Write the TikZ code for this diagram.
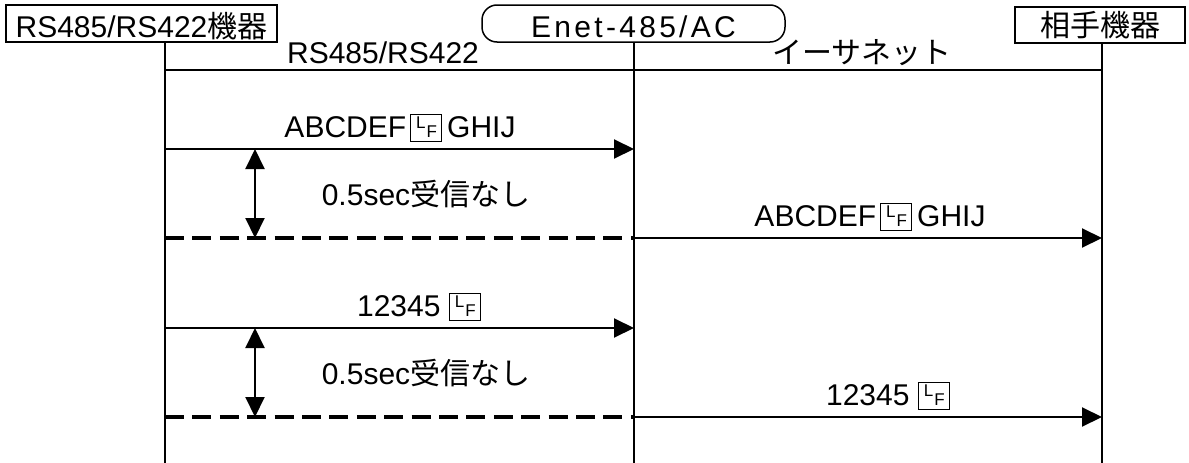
\documentclass[tikz,border=0pt]{standalone}
\usepackage{fontspec}
\setmainfont{Liberation Sans}
\newfontfamily\jp{Noto Sans CJK JP}
\usetikzlibrary{arrows.meta}
\newcommand\lfmark{\raisebox{-4pt}{\setlength\fboxsep{0pt}\setlength\fboxrule{1pt}\fbox{\rule{0pt}{26pt}\makebox[30pt][l]{\hspace{5pt}\raisebox{13pt}{\fontsize{17}{17}\selectfont L}\hspace{1pt}\raisebox{4pt}{\fontsize{17}{17}\selectfont F}}}}}
\begin{document}
\begin{tikzpicture}[x=1pt,y=-1pt,
  every node/.style={inner sep=0pt, font=\fontsize{30}{36}\selectfont},
  actor/.style={draw, line width=1.5pt, minimum height=37pt, text height=27pt, text depth=0pt},
  life/.style={line width=2pt},
  msg/.style={line width=2pt, -{Triangle[length=20pt,width=19pt]}},
  span/.style={line width=2pt, {Triangle[length=20pt,width=19pt]}-{Triangle[length=20pt,width=19pt]}},
  gap/.style={line width=3.5pt, dash pattern=on 19pt off 8.4pt},
  lbl/.style={anchor=base}]
\useasboundingbox (0,0) rectangle (1189,463);
% actors
\node[actor, minimum width=271pt] (devA) at (141.5,23.5) {RS485/RS422{\jp 機器}};
\node[actor, minimum width=303pt, rounded corners=15pt] (enet) at (633.5,23.5) {\addfontfeature{LetterSpace=11}Enet-485/AC};
\node[actor, minimum width=170pt, minimum height=36pt, text height=22pt] (devB) at (1100,25) {\jp 相手機器};
% lifeline x positions
\coordinate (xa) at (165,0);
\coordinate (xm) at (634,0);
\coordinate (xb) at (1102,0);
\coordinate (endA) at (165,463);
\coordinate (endM) at (634,463);
\coordinate (endB) at (1102,463);
\draw[life] (devA.south -| xa) -- (endA);
\draw[life] (enet.south -| xm) -- (endM);
\draw[life] (devB.south -| xb) -- (endB);
% top line
\coordinate (tA) at (165,70);
\coordinate (tB) at (1102,70);
\draw[life] (tA) -- (tB);
\node[lbl] (rsl) at (383,63) {RS485/RS422};
\node[lbl] (ethl) at (862,63) {\jp イーサネット};
% round 1
\coordinate (a1) at (165,149);
\coordinate (m1) at (634,149);
\coordinate (a2) at (165,238);
\coordinate (m2) at (634,238);
\coordinate (b2) at (1102,238);
\coordinate (s1t) at (255,149);
\coordinate (s1b) at (255,238);
\draw[msg] (a1) -- (m1);
\node[lbl] (l1) at (400,137) {ABCDEF\hspace{4pt}\lfmark\hspace{5pt}GHIJ};
\draw[span] (s1t) -- (s1b);
\node[lbl] (w1) at (426,205) {0.5sec{\jp 受信なし}};
\draw[gap] (a2) -- (m2);
\draw[msg] (m2) -- (b2);
\node[lbl] (l2) at (870,226) {ABCDEF\hspace{4pt}\lfmark\hspace{5pt}GHIJ};
% round 2
\coordinate (a3) at (165,328);
\coordinate (m3) at (634,328);
\coordinate (a4) at (165,417);
\coordinate (m4) at (634,417);
\coordinate (b4) at (1102,417);
\coordinate (s2t) at (255,328);
\coordinate (s2b) at (255,417);
\draw[msg] (a3) -- (m3);
\node[lbl] (l3) at (419,316) {12345 \lfmark};
\draw[span] (s2t) -- (s2b);
\node[lbl] (w2) at (426,384) {0.5sec{\jp 受信なし}};
\draw[gap] (a4) -- (m4);
\draw[msg] (m4) -- (b4);
\node[lbl] (l4) at (888,405) {12345 \lfmark};
\end{tikzpicture}
\end{document}
